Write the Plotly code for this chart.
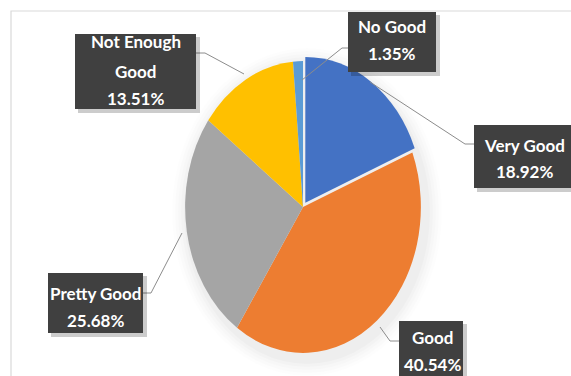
import plotly.graph_objects as go

# ---- data ----
labels = ["Very Good", "Good", "Pretty Good", "Not Enough Good", "No Good"]
values = [14, 30, 19, 10, 1]
colors = ["#4472C4", "#ED7D31", "#A5A5A5", "#FFC000", "#5B9BD5"]
pulls = [0.035, 0, 0, 0, 0]
label_lines = {"Not Enough Good": ["Not Enough", "Good"]}

# ---- layout constants (pixels) ----
W, H = 571, 376
CX, CY, RX, RY = 303, 207, 122, 151
K = RY / RX

total = sum(values)
pcts = [v / total * 100 for v in values]


def px(x):
    return x / W


def py(y):
    return 1 - y / H


rbox = RX
fig = go.Figure(
    go.Pie(
        labels=labels,
        values=values,
        sort=False,
        direction="clockwise",
        rotation=0,
        pull=pulls,
        marker=dict(colors=colors, line=dict(width=0)),
        textinfo="none",
        hoverinfo="label+percent",
        showlegend=False,
        domain=dict(x=[px(CX - rbox), px(CX + rbox)], y=[py(CY + rbox), py(CY - rbox)]),
    )
)

shapes = []
# chart area border (top and left visible)
shapes.append(dict(type="rect", xref="paper", yref="paper", x0=px(11), x1=px(W + 10),
                   y0=py(H + 10), y1=py(11), line=dict(color="#d9d9d9", width=1.2),
                   fillcolor="rgba(0,0,0,0)", layer="below"))
# soft pie shadow
for i, a in enumerate([0.018, 0.015, 0.012, 0.01, 0.008]):
    g = 1 + i * 3
    shapes.append(dict(type="circle", xref="paper", yref="paper",
                       x0=px(CX - RX - g + 4), x1=px(CX + RX + g + 4),
                       y0=py(CY + RY + g + 5), y1=py(CY - RY - g + 5),
                       line=dict(width=0), fillcolor=f"rgba(0,0,0,{a})", layer="below"))

# label boxes: (x0, y0, x1, y1), line centre ys, text centre x, leader polyline
boxes = {
    "Very Good": ((474, 125, 580, 188), [145, 172], 524, [(370, 82), (465, 144), (474, 144)]),
    "Good": ((399, 321, 463, 390), [337, 364], 432, [(380, 327), (390, 341), (399, 341)]),
    "Pretty Good": ((48, 273, 143, 333), [293, 320], 95.5, [(182, 233), (151, 293), (143, 293)]),
    "Not Enough Good": ((75, 34, 196, 109), [42, 71, 98], 135.5, [(244, 74), (205, 53), (196, 53)]),
    "No Good": ((348, 12, 436, 72), [26, 54], 392, [(302, 80), (342, 48), (348, 48)]),
}

annotations = []
for lab, pct in zip(labels, pcts):
    (x0, y0, x1, y1), ys, tx, leader = boxes[lab]
    path = "M " + " L ".join(f"{px(a)},{py(b)}" for a, b in leader)
    shapes.append(dict(type="path", xref="paper", yref="paper", path=path,
                       line=dict(color="#8c8c8c", width=1), layer="above"))
    # box shadow
    shapes.append(dict(type="rect", xref="paper", yref="paper",
                       x0=px(x0 + 3), x1=px(x1 + 4), y0=py(y1 + 4), y1=py(y0 + 3),
                       line=dict(width=0), fillcolor="rgba(0,0,0,0.2)", layer="above"))
    shapes.append(dict(type="rect", xref="paper", yref="paper",
                       x0=px(x0), x1=px(x1), y0=py(y1), y1=py(y0),
                       line=dict(width=0), fillcolor="#404040", layer="above"))
    lines = label_lines.get(lab, [lab]) + [f"{pct:.2f}%"]
    for txt, yy in zip(lines, ys):
        annotations.append(dict(text=f"<b>{txt}</b>", x=px(tx), y=py(yy), xref="paper", yref="paper",
                                xanchor="center", yanchor="middle", showarrow=False,
                                font=dict(family="Lato", size=17, color="white")))

fig.update_layout(
    width=W, height=H,
    margin=dict(l=0, r=0, t=0, b=0),
    paper_bgcolor="white", plot_bgcolor="white",
    shapes=shapes, annotations=annotations,
)

post = (
    "document.body.style.margin='0';document.body.style.overflow='hidden';"
    "var gd=document.getElementById('{plot_id}');"
    f"var k={K:.4f}, cy={CY};"
    "gd.querySelectorAll('.pielayer').forEach(function(el){"
    "el.setAttribute('transform','matrix(1,0,0,'+k+',0,'+(cy*(1-k))+')');});"
)

fig.write_html("out.html", post_script=post, config={"displayModeBar": False})
